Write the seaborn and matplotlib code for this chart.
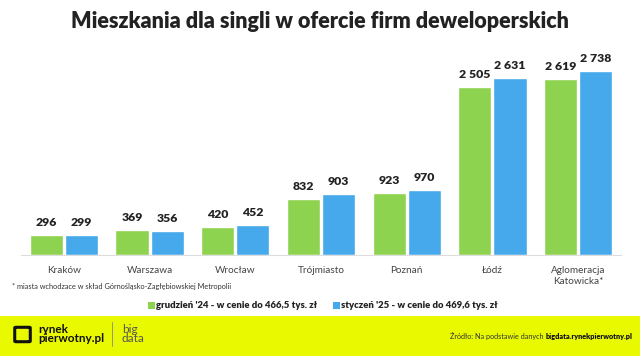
import matplotlib
matplotlib.use("Agg")
import matplotlib.pyplot as plt
from matplotlib.patches import Rectangle, FancyBboxPatch
import seaborn as sns
import pandas as pd

categories = ["Kraków", "Warszawa", "Wrocław", "Trójmiasto", "Poznań", "Łódź", "Aglomeracja\nKatowicka*"]
dec24 = [296, 369, 420, 832, 923, 2505, 2619]
jan25 = [299, 356, 452, 903, 970, 2631, 2738]
series_names = ["grudzień '24 - w cenie do 466,5 tys. zł", "styczeń '25 - w cenie do 469,6 tys. zł"]
colors = ["#8ed34f", "#45a9ec"]

df = pd.DataFrame({
    "city": categories * 2,
    "value": dec24 + jan25,
    "series": [series_names[0]] * len(categories) + [series_names[1]] * len(categories),
})

sns.set_theme(style="white")
plt.rcParams["font.family"] = ["Lato", "DejaVu Sans"]

fig = plt.figure(figsize=(6.4, 3.56), dpi=100)
fig.patch.set_facecolor("white")
ax = fig.add_axes([21/640, 1-255/356, 600/640, 200/356])

sns.barplot(data=df, x="city", y="value", hue="series", palette=colors,
            width=0.82, gap=0.06, ax=ax, legend=False, saturation=1)
ax.set_xlim(-0.5, len(categories)-0.5)
ax.set_ylim(0, 2738*200/184)

def fmt(v):
    return f"{int(v):,}".replace(",", " ")

for cont in ax.containers:
    ax.bar_label(cont, labels=[fmt(b.get_height()) for b in cont], padding=5,
                 fontsize=8.8, fontweight="heavy", color="#222222")

ax.set_xlabel("")
ax.set_ylabel("")
ax.set_yticks([])
ax.tick_params(axis="x", length=0, pad=8, labelsize=7.2, labelcolor="#444444")
for s in ["top", "right", "left"]:
    ax.spines[s].set_visible(False)
ax.spines["bottom"].set_color("#dddddd")
ax.spines["bottom"].set_linewidth(0.8)

fig.text(0.5, 1-22/356, "Mieszkania dla singli w ofercie firm deweloperskich",
         ha="center", va="center", fontsize=15.5, fontweight="heavy", color="#222222")

fig.text(12/640, 1-287/356, "* miasta wchodzace w skład Górnośląsko-Zagłębiowskiej Metropolii",
         ha="left", va="center", fontsize=5.3, color="#333333")

# legend
ly = 1-305/356
fig.patches.append(Rectangle((148/640, ly-3.5/356), 7/640, 7/356, transform=fig.transFigure,
                             facecolor=colors[0], edgecolor="none"))
fig.text(156/640, ly, series_names[0], ha="left", va="center", fontsize=6.85,
         fontweight="heavy", color="#222222")
fig.patches.append(Rectangle((333/640, ly-3.5/356), 7/640, 7/356, transform=fig.transFigure,
                             facecolor=colors[1], edgecolor="none"))
fig.text(341/640, ly, series_names[1], ha="left", va="center", fontsize=6.85,
         fontweight="heavy", color="#222222")

# footer
fig.patches.append(Rectangle((0, 0), 1, 40/356, transform=fig.transFigure,
                             facecolor="#e9fa00", edgecolor="none", zorder=0))
fig.patches.append(FancyBboxPatch((16/640, 1-341/356), 13/640, 13/356,
                                  boxstyle="round,pad=0.002", transform=fig.transFigure,
                                  facecolor="none", edgecolor="#111111", linewidth=2.2))
fig.text(38/640, 1-334/356, "rynek\npierwotny.pl", ha="left", va="center", fontsize=8.5,
         fontweight="bold", color="#111111", linespacing=0.85)
fig.lines.append(plt.Line2D([112/640, 112/640], [1-346/356, 1-322/356],
                            transform=fig.transFigure, color="#888888", linewidth=0.6))
fig.text(122/640, 1-334/356, "big\ndata", ha="left", va="center", fontsize=8.5,
         fontweight="normal", color="#555555", linespacing=0.85)
t1 = fig.text(632/640, 1-336/356, "bigdata.rynekpierwotny.pl", ha="right", va="center",
              fontsize=5.2, fontweight="heavy", color="#111111")
fig.canvas.draw()
bb = t1.get_window_extent()
fig.text(bb.x0/640 - 0.002, 1-336/356, "Źródło: Na podstawie danych", ha="right", va="center",
         fontsize=5.2, color="#333333")

fig.savefig("out.png", dpi=100)
